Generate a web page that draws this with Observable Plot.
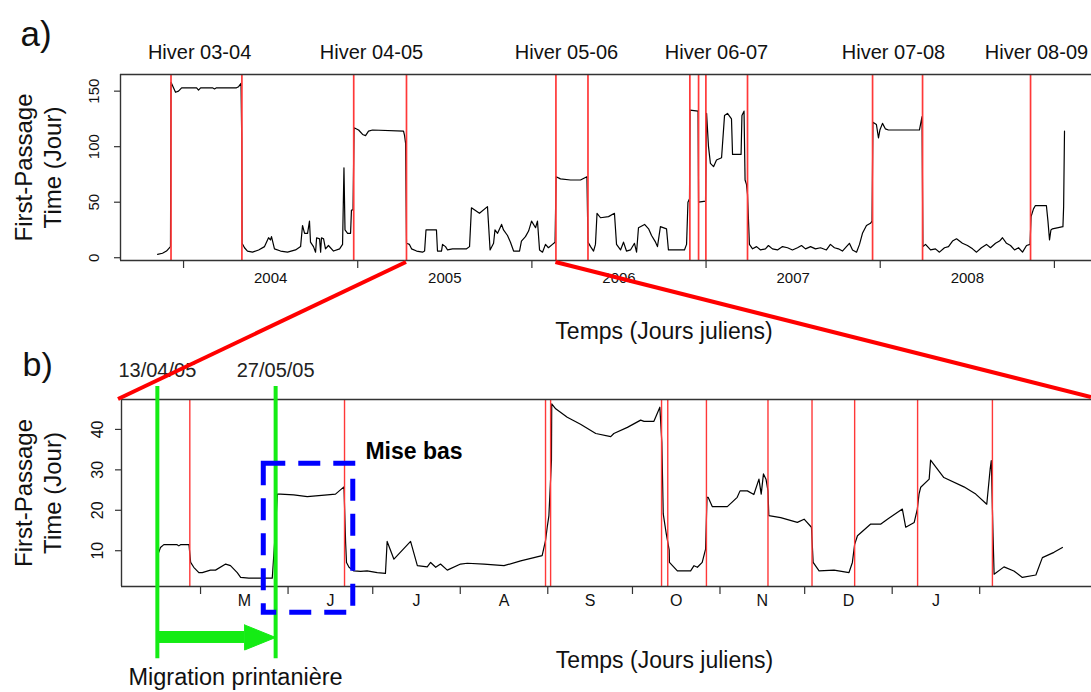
<!DOCTYPE html>
<html><head><meta charset="utf-8">
<script src="https://cdn.jsdelivr.net/npm/d3@7"></script>
<script src="https://cdn.jsdelivr.net/npm/@observablehq/plot@0.6"></script>
<style>
body{margin:0;background:#fff;}
#wrap{position:relative;width:1091px;height:692px;overflow:hidden;background:#fff;}
#wrap > div{position:absolute;left:0;}
#wrap svg{overflow:visible;}
</style></head><body><div id="wrap"><div id="pa" style="top:0"></div><div id="pb" style="top:340px"></div></div>
<script>
// ---------- Panel a : whole record (decimal years) ----------
const aTime = [2003.851,2003.879,2003.902,2003.925,2003.928,2003.954,2003.971,2003.989,2004.075,2004.086,2004.098,2004.166,2004.178,2004.189,2004.304,2004.316,2004.330,2004.334,2004.336,2004.350,2004.367,2004.396,2004.431,2004.465,2004.488,2004.499,2004.505,2004.522,2004.557,2004.597,2004.643,2004.672,2004.683,2004.695,2004.712,2004.723,2004.729,2004.746,2004.758,2004.764,2004.781,2004.787,2004.792,2004.804,2004.815,2004.832,2004.861,2004.896,2004.913,2004.921,2004.927,2004.942,2004.959,2004.964,2004.973,2004.979,2005.005,2005.028,2005.045,2005.062,2005.085,2005.263,2005.269,2005.275,2005.280,2005.297,2005.309,2005.338,2005.372,2005.384,2005.392,2005.452,2005.458,2005.481,2005.487,2005.504,2005.516,2005.544,2005.625,2005.642,2005.653,2005.699,2005.745,2005.760,2005.780,2005.788,2005.803,2005.826,2005.837,2005.860,2005.877,2005.895,2005.929,2005.940,2005.963,2005.981,2005.998,2006.021,2006.032,2006.044,2006.061,2006.078,2006.095,2006.118,2006.133,2006.139,2006.164,2006.222,2006.279,2006.316,2006.322,2006.337,2006.354,2006.365,2006.374,2006.394,2006.440,2006.474,2006.486,2006.509,2006.526,2006.543,2006.566,2006.589,2006.601,2006.612,2006.647,2006.670,2006.687,2006.710,2006.721,2006.738,2006.773,2006.784,2006.876,2006.888,2006.896,2006.905,2006.908,2006.954,2006.957,2006.997,2007.003,2007.014,2007.025,2007.043,2007.060,2007.089,2007.106,2007.123,2007.146,2007.152,2007.201,2007.206,2007.218,2007.224,2007.232,2007.238,2007.249,2007.267,2007.290,2007.313,2007.341,2007.358,2007.381,2007.410,2007.439,2007.468,2007.496,2007.525,2007.548,2007.571,2007.600,2007.628,2007.657,2007.691,2007.714,2007.737,2007.760,2007.783,2007.806,2007.823,2007.841,2007.864,2007.881,2007.898,2007.921,2007.944,2007.953,2007.958,2007.978,2007.990,2007.998,2008.013,2008.030,2008.047,2008.225,2008.240,2008.245,2008.260,2008.289,2008.317,2008.340,2008.369,2008.392,2008.415,2008.438,2008.472,2008.501,2008.530,2008.553,2008.581,2008.610,2008.633,2008.662,2008.685,2008.702,2008.725,2008.748,2008.771,2008.794,2008.817,2008.840,2008.860,2008.866,2008.880,2008.891,2008.954,2008.963,2008.972,2008.980,2008.989,2009.049,2009.053,2009.058];
const aFPT = [3,4,6,10,158,149,150,153,153,151,153,153,152,153,153,154,157,108,13,9,6,5,7,10,18,16,19,8,6,5,7,10,29,22,22,33,14,10,5,18,17,5,18,17,8,11,6,8,12,81,25,22,22,43,43,117,115,111,110,114,115,114,110,103,13,12,8,6,5,6,25,25,6,6,12,10,7,8,8,10,45,40,46,7,13,25,22,30,25,20,14,6,6,15,19,24,33,27,33,7,5,12,9,12,14,73,71,70,70,73,14,10,6,12,40,36,37,40,12,7,14,6,7,13,5,27,30,26,20,14,10,28,26,7,7,12,50,53,133,132,50,51,130,100,85,82,88,90,128,130,125,93,93,128,132,70,66,57,12,8,10,7,8,11,8,7,10,9,7,9,11,8,10,8,9,7,12,9,8,6,10,13,7,5,12,22,29,31,33,122,120,108,115,121,116,115,115,127,10,12,7,8,5,9,10,15,17,13,11,8,5,9,12,9,13,15,18,13,11,7,9,5,11,12,37,44,47,47,33,16,25,26,28,46,114];
const aBreaks = [2003.928,2004.335,2004.977,2005.280,2006.138,2006.322,2006.907,2006.957,2006.999,2007.238,2007.956,2008.243,2008.863];
const aYearTicks = [2004,2005,2006,2007,2008,2009];
const aYearLabels = ["2004","2005","2006","2007","2008"];
const aYTicks = [0,50,100,150];
const winterLabels = ["Hiver 03-04","Hiver 04-05","Hiver 05-06","Hiver 06-07","Hiver 07-08","Hiver 08-09"];
const winterPos = [2004.092,2005.079,2006.199,2007.060,2008.076,2008.897];
const zoomStartA = 2005.280, zoomEndA = 2006.138;

// ---------- Panel b : April 2005 - March 2006 (julian day of 2005) ----------
const bDay = [106.2,106.8,108,112.7,113.3,113.9,116.9,117.5,118.6,120.4,121.6,124.5,126.3,129.9,131.6,134,135.2,138.1,146.4,147.6,148.2,149.3,154,158.8,165.9,168.8,171.8,172.4,172.7,173.6,175.3,177.7,180,183.6,186.5,187.1,189.5,195.4,197.8,201.3,202.5,204.3,206,208.4,213.1,215.5,221.4,228.5,234.4,239.1,242,243.2,243.8,244.4,245.3,245.4,246.8,250.9,255.6,261,266.3,267.4,272.2,276.9,278.1,281.6,283.7,284.4,284.9,285.9,287,287.1,289.9,294.6,295.8,297,298.7,299.9,300.4,300.8,302.3,307.6,311.1,312.1,314.7,317,318.8,319.6,320.4,321.3,322,322.3,326.5,332.4,334.8,337.4,337.8,338,340.1,345.4,350.7,351.9,352.7,353.7,358.4,362,364.3,369.6,370.8,373.8,374.9,375.5,376.1,379.1,379.6,384.3,391.4,395.6,399.5,400.7,401.1,401.7,402.1,405.6,409.1,412.1,416.9,419.2,423.3,426.3];
const bFPT = [9.6,10.8,11.5,11.5,11.2,11.5,11.5,7.1,5.9,4.6,4.6,5.2,5.2,6.7,6.3,4.6,3.4,3.2,3.2,15.8,24.0,24.0,23.8,23.4,23.8,24.0,25.8,11.8,7.1,5.9,5.0,4.9,5.0,4.6,4.4,12.3,7.9,12.3,6.3,6.0,7.1,5.9,6.7,5.2,6.7,6.9,6.7,6.3,7.5,8.3,8.8,12.5,15.8,18.7,32.3,46.3,45.1,43.0,41.3,39.0,38.2,39.0,40.5,42.3,42.0,42.0,45.5,36.8,19.1,14.5,10.2,7.1,5.0,5.0,6.3,5.9,7.1,10.4,23.2,23.2,20.9,20.9,23.2,24.8,24.8,23.9,27.7,24.0,29.0,27.7,24.8,18.7,18.2,17.0,17.8,15.8,10.0,7.1,5.0,5.2,4.6,7.1,11.6,13.7,16.6,16.6,17.8,20.3,15.8,17.0,20.3,24.0,25.7,27.7,32.4,28.1,25.8,24.0,21.5,30.2,32.3,14.5,4.2,6.0,5.0,3.4,4.0,8.3,9.6,10.8];
const bBreaks = [117.2,172,243.2,245,284.3,286.5,300.2,322,337.6,352.7,375,401.5];
const bMonthTicks = [121,152,182,213,244,274,305,335,366,397];
const bMonthLabels = ["M","J","J","A","S","O","N","D","J"];
const bYTicks = [10,20,30,40];
const migrationDays = [105.7,147.6];
const migrationLabels = ["13/04/05","27/05/05"];
const arrowHeadStart = 136.6;
const miseBasBox = {x1: 143.4, x2: 175.1, y1: -5.35, y2: 31.5};

// ---------- drawing ----------
const FONT = '"Liberation Sans", Arial, Helvetica, sans-serif';
const INK = "#111";
const RED = "#ff3838";
const GREEN = "#14ec14";
const T = {textAnchor: "middle", lineAnchor: "middle", fill: INK};

const aX = [2003.638, 2009.213], aY = [-2.5, 165];
const aPts = aTime.map((t, i) => ({t, v: aFPT[i]}));
const aMid = aYearLabels.map((s, i) => ({x: (aYearTicks[i] + aYearTicks[i + 1]) / 2, s}));
const aWin = winterLabels.map((s, i) => ({x: winterPos[i], s}));

const plotA = Plot.plot({
  width: 1091, height: 350,
  marginLeft: 120, marginRight: 0, marginTop: 74, marginBottom: 90,
  x: {domain: aX}, y: {domain: aY},
  style: {fontFamily: FONT, color: INK, background: "transparent", overflow: "visible"},
  marks: [
    Plot.line(aPts, {x: "t", y: "v", stroke: "#000", strokeWidth: 1.2}),
    Plot.ruleX(aBreaks, {y1: aY[0], y2: aY[1], stroke: RED, strokeWidth: 1.7}),
    Plot.ruleY(aY, {stroke: "#333", strokeWidth: 1.4}),
    Plot.ruleX([aX[0]], {y1: aY[0], y2: aY[1], stroke: "#333", strokeWidth: 1.4}),
    Plot.axisX({ticks: aYearTicks, tickSize: 8, tickFormat: () => "", label: null, stroke: "#333", strokeWidth: 1.2}),
    Plot.axisY({ticks: aYTicks, tickSize: 6, tickFormat: () => "", label: null, stroke: "#333", strokeWidth: 1.2}),
    Plot.text(aMid, {...T, x: "x", text: "s", frameAnchor: "bottom", dy: 18, fontSize: 15}),
    Plot.text(aYTicks, {...T, y: d => d, text: d => String(d), frameAnchor: "left", dx: -26, rotate: -90, fontSize: 15}),
    Plot.text(aWin, {...T, x: "x", text: "s", frameAnchor: "top", dy: -22, fontSize: 20}),
    Plot.text(["First-Passage\nTime (Jour)"], {...T, frameAnchor: "left", dx: -83, rotate: -90, fontSize: 24, lineHeight: 1.17}),
    Plot.text(["Temps (Jours juliens)"], {...T, frameAnchor: "bottom", dx: 58, dy: 71, fontSize: 23}),
    Plot.text(["a)"], {...T, textAnchor: "start", frameAnchor: "top-left", dx: -100, dy: -40, fontSize: 35})
  ]
});
document.getElementById("pa").appendChild(plotA);

const bX = [93, 436.6], bY = [1.15, 47.4];
const bPts = bDay.map((d, i) => ({d, v: bFPT[i]}));
const bMid = bMonthLabels.map((s, i) => ({x: (bMonthTicks[i] + bMonthTicks[i + 1]) / 2, s}));
const mig = migrationDays.map((x, i) => ({x, s: migrationLabels[i]}));
const arrowY = -11.46, shaftHalf = 1.48, headHalf = 3.1;
const shaft = [{x1: migrationDays[0], x2: arrowHeadStart, y1: arrowY - shaftHalf, y2: arrowY + shaftHalf}];
const head = [
  {x: arrowHeadStart, y: arrowY + headHalf},
  {x: migrationDays[1], y: arrowY},
  {x: arrowHeadStart, y: arrowY - headHalf},
  {x: arrowHeadStart, y: arrowY + headHalf}
];
const migRules = migrationDays.map(x => ({x, y1: 50.6, y2: -16.7}));
const redB = bBreaks.map(x => ({x, y1: bY[0], y2: bY[1]}));

const plotB = Plot.plot({
  width: 1091, height: 352,
  marginLeft: 121, marginRight: 0, marginTop: 59, marginBottom: 106,
  x: {domain: bX}, y: {domain: bY},
  style: {fontFamily: FONT, color: INK, background: "transparent", overflow: "visible"},
  marks: [
    Plot.line(bPts, {x: "d", y: "v", stroke: "#000", strokeWidth: 1.2}),
    Plot.ruleX(redB, {x: "x", y1: "y1", y2: "y2", stroke: RED, strokeWidth: 1.4}),
    Plot.ruleY(bY, {stroke: "#333", strokeWidth: 1.4}),
    Plot.ruleX([{x: bX[0], y1: bY[0], y2: bY[1]}], {x: "x", y1: "y1", y2: "y2", stroke: "#333", strokeWidth: 1.4}),
    Plot.axisX({ticks: bMonthTicks, tickSize: 8, tickFormat: () => "", label: null, stroke: "#333", strokeWidth: 1.2}),
    Plot.axisY({ticks: bYTicks, tickSize: 6, tickFormat: () => "", label: null, stroke: "#333", strokeWidth: 1.2}),
    Plot.text(bMid, {...T, x: "x", text: "s", frameAnchor: "bottom", dy: 14, fontSize: 16}),
    Plot.text(bYTicks, {...T, y: d => d, text: d => String(d), frameAnchor: "left", dx: -24, rotate: -90, fontSize: 16}),
    Plot.text(["First-Passage\nTime (Jour)"], {...T, frameAnchor: "left", dx: -84, rotate: -90, fontSize: 24, lineHeight: 1.17}),
    Plot.text(["Temps (Jours juliens)"], {...T, frameAnchor: "bottom", dx: 58, dy: 74, fontSize: 23}),
    Plot.text(["b)"], {...T, textAnchor: "start", frameAnchor: "top-left", dx: -99, dy: -34, fontSize: 34}),
    // spring migration annotation
    Plot.ruleX(migRules, {x: "x", y1: "y1", y2: "y2", stroke: GREEN, strokeWidth: 4}),
    Plot.rect(shaft, {x1: "x1", x2: "x2", y1: "y1", y2: "y2", fill: GREEN}),
    Plot.line(head, {x: "x", y: "y", fill: GREEN, stroke: GREEN, strokeWidth: 1}),
    Plot.text(mig, {...T, x: "x", y: () => 54.6, text: "s", fontSize: 20, fill: "#222"}),
    Plot.text([{x: 133.4, y: -21.35}], {...T, x: "x", y: "y", text: () => "Migration printanière", fontSize: 23.5}),
    // parturition box
    Plot.rect([miseBasBox], {x1: "x1", x2: "x2", y1: "y1", y2: "y2", fill: "none", stroke: "#0000ff", strokeWidth: 5, strokeDasharray: "22,13"}),
    Plot.text([{x: 179.4, y: 34.5}], {...T, textAnchor: "start", x: "x", y: "y", text: () => "Mise bas", fontSize: 23, fontWeight: "bold", fill: "#000"})
  ]
});
document.getElementById("pb").appendChild(plotB);

// ---------- zoom connectors (computed from both panels' scales) ----------
function pos(plot, ch, v) {
  const s = plot.scale(ch);
  if (s.apply) return s.apply(v);
  const [d0, d1] = s.domain, [r0, r1] = s.range;
  return r0 + (v - d0) / (d1 - d0) * (r1 - r0);
}
const offB = 340;
const aBottom = pos(plotA, "y", aY[0]) + 2;
const bTop = offB + pos(plotB, "y", bY[1]);
const lines = [
  [pos(plotA, "x", zoomStartA), aBottom, pos(plotB, "x", bX[0]) - 3, bTop],
  [pos(plotA, "x", zoomEndA), aBottom, pos(plotB, "x", bX[1]), bTop - 2]
];
const ov = d3.select("#wrap").append("svg")
  .attr("width", 1091).attr("height", 692)
  .style("position", "absolute").style("left", 0).style("top", 0).style("pointer-events", "none");
ov.selectAll("line").data(lines).join("line")
  .attr("x1", d => d[0]).attr("y1", d => d[1]).attr("x2", d => d[2]).attr("y2", d => d[3])
  .attr("stroke", "#ff0000").attr("stroke-width", 4);
</script></body></html>
